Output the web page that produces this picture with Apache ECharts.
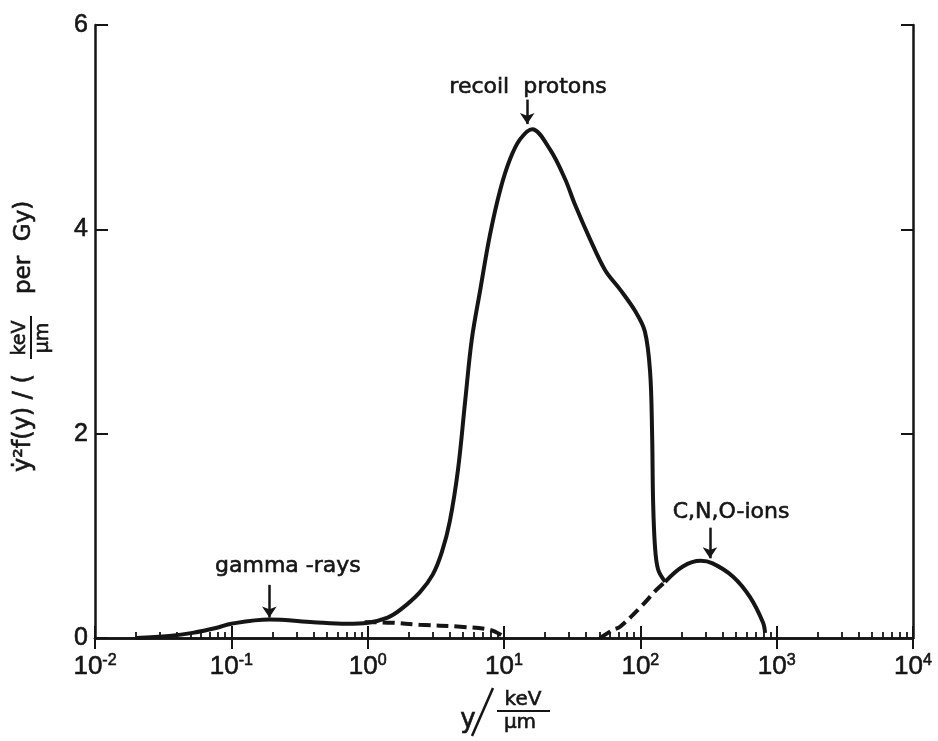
<!DOCTYPE html>
<html><head><meta charset="utf-8">
<script src="https://cdn.jsdelivr.net/npm/echarts@6/dist/echarts.min.js"></script>
<style>html,body{margin:0;padding:0;background:#fff}#c{width:938px;height:741px}</style>
</head><body><div id="c"></div>
<script>
// ---- data ----
const xDecadeExps = [-2, -1, 0, 1, 2, 3, 4];
const yTicks = [0, 2, 4, 6];

// solid: gamma rays bump + recoil protons, up to the junction with C,N,O
const mainX = [0.02, 0.035, 0.052, 0.0785, 0.1, 0.19, 0.4, 0.7, 1.0, 1.4, 1.75, 2.42, 3.0, 3.5, 4.0, 4.6, 5.2, 5.8, 6.7, 7.9, 9.4, 11.1, 13.1, 16.1, 21.8, 28.1, 33.2, 42.9, 55.2, 71.1, 91.6, 108, 118, 122, 124, 128, 135, 152];
const mainY = [0.0, 0.02, 0.05, 0.10, 0.14, 0.18, 0.155, 0.14, 0.15, 0.20, 0.28, 0.45, 0.62, 0.84, 1.14, 1.65, 2.33, 2.92, 3.41, 3.95, 4.39, 4.69, 4.88, 4.98, 4.78, 4.49, 4.24, 3.90, 3.60, 3.41, 3.20, 3.00, 2.60, 2.00, 1.35, 0.90, 0.67, 0.55];

// dashed continuation of the gamma-ray component
const gammaTailX = [0.95, 1.5, 2.4, 4.8, 7.9, 9.8];
const gammaTailY = [0.155, 0.15, 0.13, 0.11, 0.08, 0.02];

// dashed rise of the C,N,O component
const cnoRiseX = [50.7, 63, 71, 100, 131, 152];
const cnoRiseY = [0.0, 0.08, 0.11, 0.30, 0.47, 0.55];

// solid C,N,O component
const cnoX = [152, 205, 277, 339, 479, 638, 795, 822];
const cnoY = [0.55, 0.70, 0.755, 0.73, 0.60, 0.40, 0.15, 0.05];

// annotations (data coordinates)
const annText  = ['recoil  protons', 'gamma -rays', 'C,N,O-ions'];
const annTextX = [15.0, 0.26, 463];
const annTextY = [5.39, 0.70, 1.23];
const arrowX    = [14.8, 0.19, 324];
const arrowFrom = [5.27, 0.52, 1.08];
const arrowTo   = [5.03, 0.20, 0.78];

// ---- chart ----
const ink = '#151515';
const TXT = '"DejaVu Sans", sans-serif';
const NUM = '"Liberation Sans", sans-serif';
const pair = (xs, ys) => xs.map((x, i) => [x, ys[i]]);
const minorVals = [];
xDecadeExps.slice(0, -1).forEach(e => { for (let m = 2; m <= 9; m++) minorVals.push(m * Math.pow(10, e)); });

const chart = echarts.init(document.getElementById('c'));
const frame = { lineStyle: { color: ink, width: 2.5 } };
const heavy = { textBorderColor: ink, textBorderWidth: 0.6 };
chart.setOption({
  animation: false,
  backgroundColor: '#fff',
  grid: { left: 95, right: 25, top: 25, bottom: 103 },
  xAxis: [
    { type: 'log', logBase: 10, min: 0.01, max: 10000, splitNumber: 6, position: 'bottom',
      axisLine: frame, splitLine: { show: false },
      axisTick: { inside: true, length: 12, lineStyle: { color: ink, width: 2 } },
      axisLabel: { margin: 15, color: ink, fontFamily: NUM,
        formatter: v => '{b|10}{s|' + Math.round(Math.log10(v)) + '}',
        rich: { b: Object.assign({ fontSize: 26, lineHeight: 28, fontFamily: NUM, color: ink }, heavy),
                s: Object.assign({ fontSize: 16, lineHeight: 16, verticalAlign: 'top', fontFamily: NUM, color: ink }, heavy) } } },
    { type: 'log', logBase: 10, min: 0.01, max: 10000, splitNumber: 6, position: 'top',
      axisLine: frame, splitLine: { show: false }, axisLabel: { show: false },
      axisTick: { inside: true, length: 11, lineStyle: { color: ink, width: 2 } } },
    { type: 'log', logBase: 10, min: 0.01, max: 10000, position: 'bottom',
      axisLine: { show: false }, splitLine: { show: false }, axisLabel: { show: false },
      axisTick: { inside: true, length: 6, customValues: minorVals, lineStyle: { color: ink, width: 1.8 } } }
  ],
  yAxis: [
    { type: 'value', min: 0, max: 6, interval: 2, position: 'left',
      axisLine: frame, splitLine: { show: false },
      axisTick: { inside: true, length: 13, lineStyle: { color: ink, width: 2 } },
      axisLabel: Object.assign({ margin: 7, color: ink, fontSize: 25, fontFamily: NUM }, heavy) },
    { type: 'value', min: 0, max: 6, interval: 2, position: 'right',
      axisLine: frame, splitLine: { show: false }, axisLabel: { show: false },
      axisTick: { inside: true, length: 12, lineStyle: { color: ink, width: 2 } } }
  ],
  series: [
    { type: 'line', data: pair(mainX, mainY), smooth: 0.35, symbol: 'none',
      lineStyle: { color: ink, width: 4 }, z: 3 },
    { type: 'line', data: pair(cnoX, cnoY), smooth: 0.35, symbol: 'none',
      lineStyle: { color: ink, width: 4 }, z: 3 },
    { type: 'line', data: pair(gammaTailX, gammaTailY), smooth: 0.35, symbol: 'none',
      lineStyle: { color: ink, width: 4, type: [12, 6] }, z: 2 },
    { type: 'line', data: pair(cnoRiseX, cnoRiseY), smooth: 0.35, symbol: 'none',
      lineStyle: { color: ink, width: 4, type: [12, 6] }, z: 2 },
    { type: 'line', data: [], symbol: 'none',
      markLine: { silent: true, animation: false, symbol: ['none', 'arrow'], symbolSize: 11,
        label: { show: false }, lineStyle: { color: ink, width: 2.5, type: 'solid' },
        data: arrowX.map((x, i) => [{ coord: [x, arrowFrom[i]] }, { coord: [x, arrowTo[i]] }]) } }
  ]
});

const tStyle = (text, size, align) => ({ text, fontFamily: TXT, fontSize: size, fill: ink,
  stroke: ink, lineWidth: 0.6, align: align || 'center', verticalAlign: 'middle' });

// annotation labels placed through the chart's own scales
const annGraphics = annText.map((t, i) => {
  const p = chart.convertToPixel({ seriesIndex: 0 }, [annTextX[i], annTextY[i]]);
  return { type: 'text', x: p[0], y: p[1], z: 10, style: tStyle(t, 22) };
});

// axis titles
const xTitle = [
  { type: 'text', x: 468, y: 720, style: tStyle('y', 26) },
  { type: 'line', shape: { x1: 472, y1: 736, x2: 493, y2: 688 }, style: { stroke: ink, lineWidth: 2.5 } },
  { type: 'text', x: 523, y: 700, style: tStyle('keV', 20) },
  { type: 'line', shape: { x1: 497, y1: 711, x2: 550, y2: 711 }, style: { stroke: ink, lineWidth: 2 } },
  { type: 'text', x: 520, y: 723, style: tStyle('μm', 20) }
];
const yTitle = {
  type: 'group', x: 24, y: 472, rotation: Math.PI / 2,
  children: [
    { type: 'text', x: 0, y: 0, style: tStyle('y\u0307²f(y) / (', 24, 'left') },
    { type: 'text', x: 134, y: -4, style: tStyle('keV', 19) },
    { type: 'line', shape: { x1: 113, y1: 7, x2: 156, y2: 7 }, style: { stroke: ink, lineWidth: 2 } },
    { type: 'text', x: 134, y: 19, style: tStyle('μm', 19) },
    { type: 'text', x: 178, y: 0, style: tStyle('per  Gy)', 23, 'left') }
  ]
};
chart.setOption({ graphic: annGraphics.concat(xTitle, [yTitle]) });
</script>
</body></html>
